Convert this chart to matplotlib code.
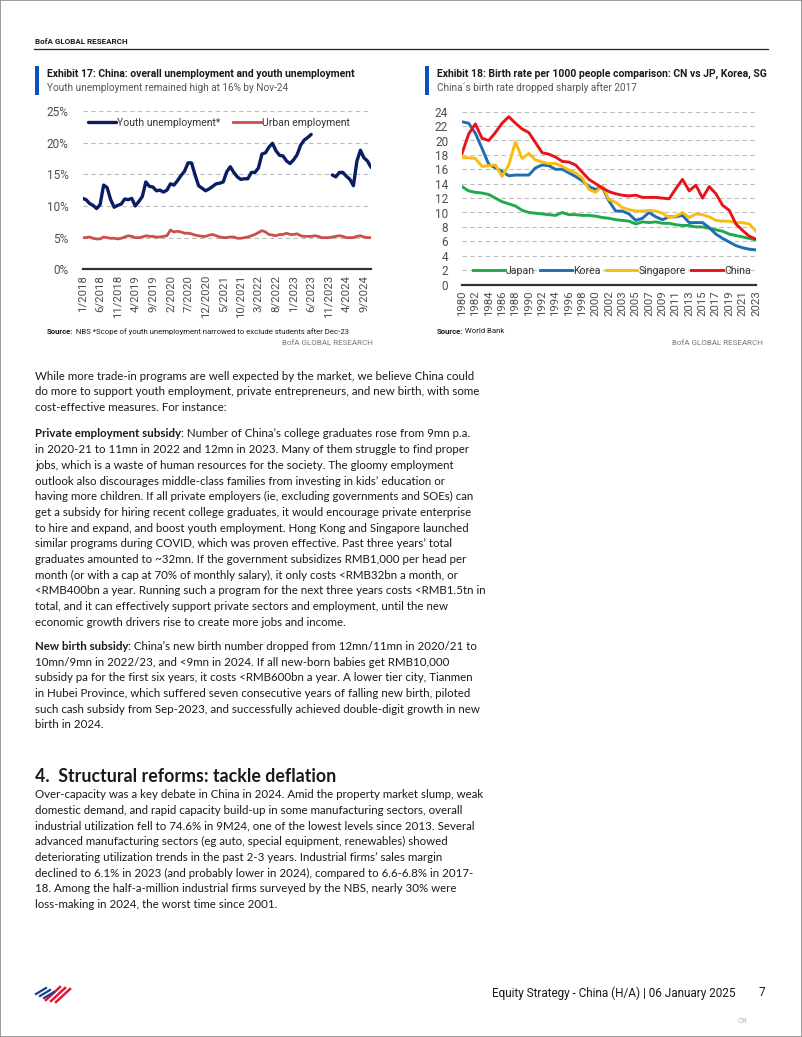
import numpy as np
import pandas as pd
import matplotlib
matplotlib.use('Agg')
import matplotlib.pyplot as plt
from matplotlib.patches import Rectangle
from matplotlib.lines import Line2D

W, H = 802, 1037
nan = np.nan

# Exhibit 17: monthly, Jan-2018 .. Nov-2024 (%)
youth_unemp = [11.2, 11.0, 10.4, 10.1, 9.6, 10.2, 13.3, 12.9, 11.0, 9.8, 10.1, 10.3,
               11.1, 11.0, 11.2, 10.0, 10.7, 11.5, 13.8, 13.1, 13.0, 12.4, 12.5, 12.2,
               12.5, 13.5, 13.3, 14.0, 14.8, 15.5, 16.8, 16.8, 14.9, 13.2, 12.8, 12.4,
               12.7, 13.1, 13.5, 13.6, 13.8, 15.4, 16.2, 15.3, 14.6, 14.2, 14.3, 14.3,
               15.3, 15.3, 16.0, 18.2, 18.4, 19.3, 19.9, 18.7, 18.0, 17.9, 17.1, 16.7,
               17.3, 18.1, 19.6, 20.4, 20.8, 21.3, nan, nan, nan, nan, nan, 14.9,
               14.6, 15.3, 15.3, 14.7, 14.2, 13.2, 17.1, 18.8, 17.6, 17.1, 16.1]
urban_unemp = [5.0, 5.0, 5.1, 4.9, 4.8, 4.8, 5.1, 5.0, 4.9, 4.9, 4.8, 4.9,
               5.1, 5.3, 5.2, 5.0, 5.0, 5.1, 5.3, 5.2, 5.2, 5.1, 5.1, 5.2,
               5.3, 6.2, 5.9, 6.0, 5.9, 5.7, 5.7, 5.6, 5.4, 5.3, 5.2, 5.2,
               5.4, 5.5, 5.3, 5.1, 5.0, 5.0, 5.1, 5.1, 4.9, 4.9, 5.0, 5.1,
               5.3, 5.5, 5.8, 6.1, 5.9, 5.5, 5.4, 5.3, 5.5, 5.5, 5.7, 5.5,
               5.5, 5.6, 5.3, 5.2, 5.2, 5.2, 5.3, 5.2, 5.0, 5.0, 5.0, 5.1,
               5.2, 5.3, 5.2, 5.0, 5.0, 5.0, 5.2, 5.3, 5.1, 5.0, 5.0]
months = pd.period_range('2018-01', '2024-11', freq='M')
month_labels = [f"{m.month}/{m.year}" for m in months]

# Exhibit 18: birth rate per 1000 people
year_labels = [str(y) for y in range(1980, 2003)] + [str(y) for y in range(2002, 2024)]
japan = [13.6, 13.0, 12.8, 12.7, 12.5, 12.0, 11.5, 11.2, 10.9, 10.3, 10.0, 9.9, 9.8, 9.7, 9.6,
         10.0, 9.7, 9.7, 9.6, 9.6, 9.5, 9.3, 9.2, 9.0, 8.9, 8.8, 8.4, 8.7, 8.6, 8.7, 8.5, 8.5,
         8.3, 8.2, 8.2, 8.0, 8.0, 7.8, 7.6, 7.4, 7.0, 6.8, 6.6, 6.4, 6.2]
korea = [22.6, 22.4, 21.0, 18.9, 16.7, 16.2, 15.7, 15.1, 15.2, 15.2, 15.2, 16.2, 16.6, 16.5, 16.0,
         16.0, 15.5, 15.0, 14.4, 13.6, 13.2, 13.5, 11.6, 10.2, 10.2, 9.8, 8.9, 9.2, 10.0, 9.4,
         9.0, 9.4, 9.4, 9.6, 8.6, 8.6, 8.6, 7.9, 7.0, 6.4, 5.9, 5.4, 5.1, 4.9, 4.8]
singapore = [17.6, 17.6, 17.5, 16.4, 16.5, 16.6, 15.0, 16.6, 19.8, 17.5, 18.2, 17.3, 17.0, 16.8,
             16.8, 16.4, 15.9, 15.5, 14.8, 13.2, 12.8, 13.7, 11.8, 11.4, 10.7, 10.4, 10.2, 10.2,
             10.3, 10.2, 9.9, 9.3, 9.5, 10.0, 9.3, 9.8, 9.7, 9.4, 8.9, 8.8, 8.8, 8.6, 8.6, 8.4, 7.4]
china = [18.2, 20.9, 22.3, 20.3, 20.0, 21.1, 22.4, 23.3, 22.4, 21.6, 21.1, 19.7, 18.3, 18.1, 17.7,
         17.1, 17.0, 16.6, 15.6, 14.6, 14.0, 13.4, 12.9, 12.6, 12.4, 12.3, 12.4, 12.1, 12.1, 12.1,
         12.0, 11.9, 13.3, 14.6, 13.0, 13.8, 12.0, 13.6, 12.6, 11.0, 10.3, 8.4, 7.5, 6.7, 6.3]

NARROW = ['Roboto', 'DejaVu Sans']
BODY = ['Lato', 'DejaVu Sans']
plt.rcParams['font.family'] = BODY
TXT = '#1a1a1a'
TICK = '#4d4d4d'
GRID = '#bdbdbd'


def fx(x):
    return x / W


def fy(y):
    return 1 - y / H


fig = plt.figure(figsize=(W / 100, H / 100), dpi=100)
fig.patch.set_facecolor('white')


def T(x, y, s, **kw):
    kw.setdefault('va', 'center')
    kw.setdefault('color', TXT)
    return fig.text(fx(x), fy(y), s, **kw)


def style_axes(ax, yticks, fmt):
    for s in ['top', 'right', 'left']:
        ax.spines[s].set_visible(False)
    ax.spines['bottom'].set_color('#333333')
    ax.spines['bottom'].set_linewidth(1.6)
    ax.set_yticks(yticks)
    ax.set_yticklabels([fmt(v) for v in yticks])
    for v in yticks[1:]:
        ax.axhline(v, color=GRID, lw=0.8, ls=(0, (4, 3)), zorder=0)
    ax.tick_params(axis='y', length=0, pad=10, labelsize=8.5, labelcolor=TICK)
    ax.tick_params(axis='x', length=0, pad=4, labelsize=8.2, labelcolor=TICK, rotation=90)
    for lab in ax.get_xticklabels() + ax.get_yticklabels():
        lab.set_family(NARROW)


# header
T(35, 41, 'BofA GLOBAL RESEARCH', fontsize=5.8, fontweight='bold', family=NARROW)
fig.add_artist(Line2D([fx(34), fx(768)], [fy(48.5), fy(48.5)], color='#222222', lw=0.9))

# exhibit headers
for bx, title, sub in [(35, 'Exhibit 17: China: overall unemployment and youth unemployment',
                        'Youth unemployment remained high at 16% by Nov-24'),
                       (425, 'Exhibit 18: Birth rate per 1000 people comparison: CN vs JP, Korea, SG',
                        'China\u00b4s birth rate dropped sharply after 2017')]:
    fig.add_artist(Rectangle((fx(bx), fy(95)), 3.5 / W, 29 / H, color='#0a52c4', lw=0))
    T(bx + 12, 74, title, fontsize=7.45, fontweight='bold', family=NARROW)
    T(bx + 12, 88, sub, fontsize=7.2, color='#555555', family=NARROW)

# ---- Exhibit 17 chart
ax1 = fig.add_axes([fx(82.5), fy(269.3), (371 - 82.5) / W, (269.3 - 111) / H])
x1 = np.arange(len(youth_unemp))
ax1.plot(x1, youth_unemp, color='#0b1d62', lw=2.4, label='Youth unemployment*',
         solid_joinstyle='round', solid_capstyle='round')
ax1.plot(x1, urban_unemp, color='#cc4f4a', lw=2.0, label='Urban employment',
         solid_joinstyle='round')
ax1.set_xlim(0, len(youth_unemp) - 1)
ax1.set_ylim(0, 25)
ax1.set_xticks(x1[::5])
ax1.set_xticklabels(month_labels[::5])
style_axes(ax1, [0, 5, 10, 15, 20, 25], lambda v: f'{v}%')
leg1 = ax1.legend(loc='center left', bbox_to_anchor=(-0.015, 0.925), ncol=2, frameon=False,
                  handlelength=2.7, handletextpad=0.1, columnspacing=1.2,
                  prop={'family': NARROW, 'size': 7.5})
for t in leg1.get_texts():
    t.set_color('#333333')

# ---- Exhibit 18 chart
ax2 = fig.add_axes([fx(462), fy(284.5), 294 / W, (284.5 - 111.7) / H])
x2 = np.arange(len(year_labels))
for vals, col, name in [(japan, '#22a84f', 'Japan'), (korea, '#1f6db3', 'Korea'),
                        (singapore, '#f7bd12', 'Singapore'), (china, '#e8141c', 'China')]:
    ax2.plot(x2, vals, color=col, lw=2.1, label=name, solid_joinstyle='round')
ax2.set_xlim(0, len(year_labels) - 1)
ax2.set_ylim(0, 24)
ax2.set_xticks(x2[::2])
ax2.set_xticklabels(year_labels[::2])
style_axes(ax2, list(range(0, 25, 2)), lambda v: f'{v}')
leg2 = ax2.legend(loc='center', bbox_to_anchor=(0.51, 0.078), ncol=4, frameon=False,
                  handlelength=3.0, handletextpad=0.1, columnspacing=0.5,
                  prop={'family': NARROW, 'size': 7.6})
for t in leg2.get_texts():
    t.set_color('#333333')

# sources
r = fig.canvas.get_renderer()


def mixed(x, y, parts, **kw):
    for s, w in parts:
        t = T(x, y, s, fontweight=w, **kw)
        x += t.get_window_extent(renderer=r).width
    return x


mixed(47, 332, [('Source:', 'bold'), (' NBS *Scope of youth unemployment narrowed to exclude students after Dec-23', 'normal')],
      fontsize=5.6, family=NARROW)
T(373, 343, 'BofA GLOBAL RESEARCH', fontsize=5.8, color='#777777', ha='right', family=NARROW)
mixed(437, 331, [('Source:', 'bold'), (' World Bank', 'normal')], fontsize=5.6, family=NARROW)
T(763, 343, 'BofA GLOBAL RESEARCH', fontsize=5.8, color='#777777', ha='right', family=NARROW)

# body text
FS = 8.3
LS = 15.7
p1 = ["While more trade-in programs are well expected by the market, we believe China could",
      "do more to support youth employment, private entrepreneurs, and new birth, with some",
      "cost-effective measures. For instance:"]
p2 = ["in 2020-21 to 11mn in 2022 and 12mn in 2023. Many of them struggle to find proper",
      "jobs, which is a waste of human resources for the society. The gloomy employment",
      "outlook also discourages middle-class families from investing in kids\u2019 education or",
      "having more children. If all private employers (ie, excluding governments and SOEs) can",
      "get a subsidy for hiring recent college graduates, it would encourage private enterprise",
      "to hire and expand, and boost youth employment. Hong Kong and Singapore launched",
      "similar programs during COVID, which was proven effective. Past three years\u2019 total",
      "graduates amounted to ~32mn. If the government subsidizes RMB1,000 per head per",
      "month (or with a cap at 70% of monthly salary), it only costs <RMB32bn a month, or",
      "<RMB400bn a year. Running such a program for the next three years costs <RMB1.5tn in",
      "total, and it can effectively support private sectors and employment, until the new",
      "economic growth drivers rise to create more jobs and income."]
p3 = ["10mn/9mn in 2022/23, and <9mn in 2024. If all new-born babies get RMB10,000",
      "subsidy pa for the first six years, it costs <RMB600bn a year. A lower tier city, Tianmen",
      "in Hubei Province, which suffered seven consecutive years of falling new birth, piloted",
      "such cash subsidy from Sep-2023, and successfully achieved double-digit growth in new",
      "birth in 2024."]
p4 = ["Over-capacity was a key debate in China in 2024. Amid the property market slump, weak",
      "domestic demand, and rapid capacity build-up in some manufacturing sectors, overall",
      "industrial utilization fell to 74.6% in 9M24, one of the lowest levels since 2013. Several",
      "advanced manufacturing sectors (eg auto, special equipment, renewables) showed",
      "deteriorating utilization trends in the past 2-3 years. Industrial firms\u2019 sales margin",
      "declined to 6.1% in 2023 (and probably lower in 2024), compared to 6.6-6.8% in 2017-",
      "18. Among the half-a-million industrial firms surveyed by the NBS, nearly 30% were",
      "loss-making in 2024, the worst time since 2001."]

X0 = 35
for i, line in enumerate(p1):
    T(X0, 376 + i * LS, line, fontsize=FS)
mixed(X0, 434, [('Private employment subsidy', 'bold'),
                (': Number of China\u2019s college graduates rose from 9mn p.a.', 'normal')], fontsize=FS)
for i, line in enumerate(p2):
    T(X0, 434 + (i + 1) * LS, line, fontsize=FS)
mixed(X0, 646.5, [('New birth subsidy', 'bold'),
                  (': China\u2019s new birth number dropped from 12mn/11mn in 2020/21 to', 'normal')], fontsize=FS)
for i, line in enumerate(p3):
    T(X0, 646.5 + (i + 1) * LS, line, fontsize=FS)
T(X0, 777, '4.  Structural reforms: tackle deflation', fontsize=12.8, fontweight='bold')
for i, line in enumerate(p4):
    T(X0, 794.5 + i * LS, line, fontsize=FS)

# footer
for k in range(3):
    fig.add_artist(Line2D([fx(36 + 4 * k), fx(46 + 4 * k)], [fy(994 + 2 * k), fy(988 + 2 * k)],
                          color='#1d3f8f', lw=1.6))
    fig.add_artist(Line2D([fx(46 + 5 * k), fx(60 + 5 * k)], [fy(1000 + k), fy(987 + k)],
                          color='#e31837', lw=1.8))
T(735, 993, 'Equity Strategy - China (H/A) | 06 January 2025', fontsize=8.5, ha='right', family=NARROW)
T(762, 993, '7', fontsize=8.5, ha='center', family=NARROW)
T(742, 1021, 'CR', fontsize=5.5, ha='center', color='#b0b0b0', family=NARROW)
fig.add_artist(Rectangle((0, 0), 1, 1, transform=fig.transFigure, fill=False, ec='#8a8a8a', lw=1.2))

fig.savefig('out.png', dpi=100, facecolor='white')
